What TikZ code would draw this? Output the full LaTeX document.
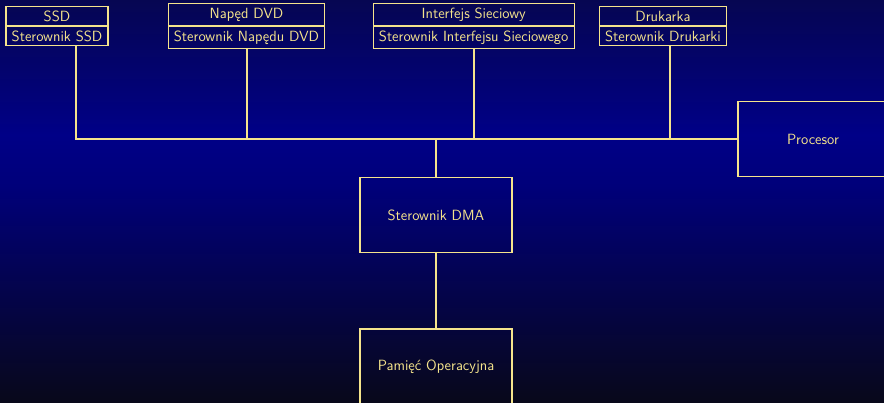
\documentclass[tikz,border=0pt]{standalone}
\usepackage{fontspec}
\usetikzlibrary{shapes.multipart}
\definecolor{linec}{RGB}{245,228,140}
\definecolor{bgtop}{RGB}{6,6,82}
\definecolor{bgmid}{RGB}{0,0,135}
\definecolor{bgmidb}{RGB}{0,0,122}
\definecolor{bgbot}{RGB}{8,8,26}
\begin{document}
\begin{tikzpicture}[x=1pt,y=1pt,
  txt/.style={text=linec, font=\sffamily\fontsize{14.8}{17}\selectfont},
  dev/.style={txt, rectangle split, rectangle split parts=2, draw=linec, line width=1.2pt, inner xsep=5.8pt, inner ysep=3.9pt, anchor=text split},
  box/.style={txt, draw=linec, line width=1.2pt, minimum width=152pt, minimum height=75pt},
  wire/.style={draw=linec, line width=1.6pt}]
\useasboundingbox (0,0) rectangle (884,-403);
\shade[top color=bgtop,bottom color=bgmid] (0,0) rectangle (884,-135);
\shade[top color=bgmid,bottom color=bgmidb] (0,-135) rectangle (884,-185);
\shade[top color=bgmidb,bottom color=bgbot] (0,-185) rectangle (884,-403);

\node[dev] (ssd) at (57,-26) {SSD\nodepart{two}Sterownik SSD};
\node[dev] (dvd) at (246.5,-26) {Napęd DVD\nodepart{two}Sterownik Napędu DVD};
\node[dev] (net) at (473.7,-26) {Interfejs Sieciowy\nodepart{two}Sterownik Interfejsu Sieciowego};
\node[dev] (prn) at (663,-26) {Drukarka\nodepart{two}Sterownik Drukarki};
\node[box, minimum width=150pt] (cpu) at (813,-139.2) {Procesor};
\node[box] (dma) at (436,-215) {Sterownik DMA};
\node[box] (ram) at (436,-366.5) {Pamięć Operacyjna};

\coordinate (b1) at (76,-139);
\coordinate (b2) at (246.7,-139);
\coordinate (b3) at (474,-139);
\coordinate (b4) at (670,-139);
\coordinate (b5) at (436,-139);
\draw[wire] (b1 |- ssd.south) -- (b1) -- (b1 -| cpu.west);
\draw[wire] (b2) -- (b2 |- dvd.south);
\draw[wire] (b3) -- (b3 |- net.south);
\draw[wire] (b4) -- (b4 |- prn.south);
\draw[wire] (b5) -- (dma.north);
\draw[wire] (dma.south) -- (ram.north);
\end{tikzpicture}
\end{document}
